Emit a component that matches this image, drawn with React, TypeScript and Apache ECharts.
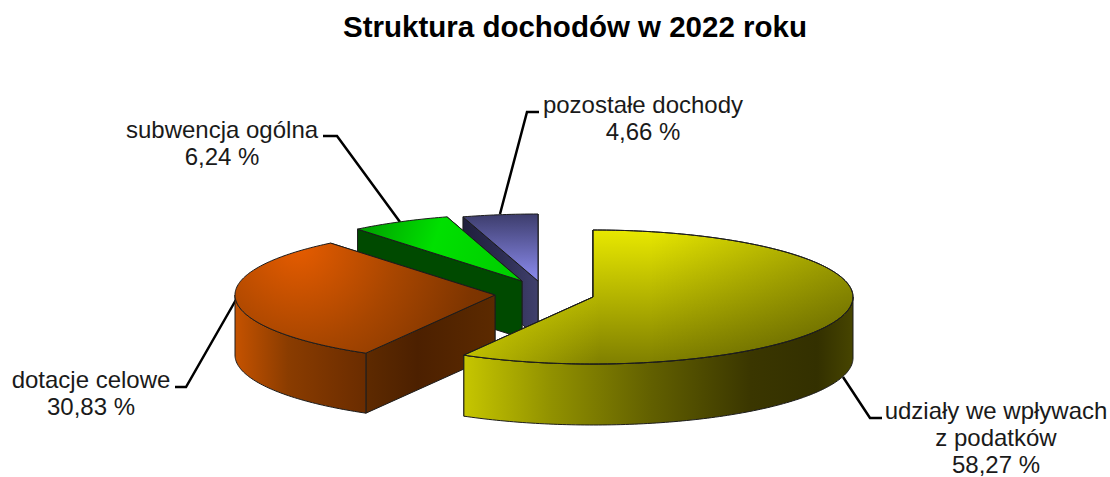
import React, { useEffect, useRef } from "react";
import * as echarts from "echarts";

const titleText = "Struktura dochodów w 2022 roku";
const categories = ["udziały we wpływach\nz podatków", "dotacje celowe", "subwencja ogólna", "pozostałe dochody"];
const shares = [58.27, 30.83, 6.24, 4.66];
const apexX = [593, 495, 522, 538];
const apexY = [297, 295, 281, 281];
const depths = [61, 60, 57, 57];
const labelX = [996, 91, 222, 643];
const labelY = [437, 393, 143, 118];
const leaders = [
  [[882, 418], [870, 418], [843, 377]],
  [[175, 387], [186, 387], [237, 298]],
  [[323, 136], [337, 136], [400, 222]],
  [[539, 112], [527, 112], [500, 214]],
];
const RX = 260;
const RY = 67;
const FONT = "Liberation Sans";

const G = echarts.graphic;
const lin = (x0: number, y0: number, x1: number, y1: number, stops: [number, string][]) =>
  new G.LinearGradient(x0, y0, x1, y1, stops.map(([offset, color]) => ({ offset, color })), true);
const rad = (x: number, y: number, r: number, stops: [number, string][]) =>
  new G.RadialGradient(x, y, r, stops.map(([offset, color]) => ({ offset, color })), true);

const topFills = [
  lin(0, 230, 0, 363, [[0, "#e8e800"], [1, "#808000"]]),
  rad(298, 245, 250, [[0, "#e65c00"], [0.4, "#a84600"], [0.72, "#7e3500"], [1, "#6c2e00"]]),
  lin(360, 225, 520, 280, [[0, "#009f00"], [0.45, "#00e000"], [1, "#00cc00"]]),
  lin(500, 215, 500, 281, [[0, "#3e3e6e"], [1, "#8c8cf0"]]),
];
const topOverlays: any[] = [
  lin(464, 0, 852, 0, [
    [0, "rgba(232,232,0,0.6)"],
    [0.35, "rgba(232,232,0,0)"],
    [0.48, "rgba(0,0,0,0)"],
    [1, "rgba(0,0,0,0.28)"],
  ]),
  null,
  null,
  null,
];
const wallFills = [
  lin(464, 0, 852, 0, [[0, "#c6c600"], [0.22, "#929200"], [0.48, "#626000"], [0.74, "#3a3600"], [0.91, "#333000"], [1, "#464400"]]),
  lin(236, 0, 366, 0, [[0, "#c45200"], [0.4, "#8a3c00"], [1, "#6a2c00"]]),
  "#004a00",
  lin(462, 0, 538, 0, [[0, "#1f1f3c"], [1, "#40406c"]]),
];
const cutFills = [
  "#5e5e00",
  lin(366, 0, 495, 0, [[0, "#5e2a00"], [0.4, "#4c2000"], [1, "#5c2a00"]]),
  "#004a00",
  lin(462, 0, 538, 0, [[0, "#1f1f3c"], [0.5, "#2c2c50"], [1, "#40406c"]]),
];

const renderSlice = (_: any, api: any) => {
  const i = api.value(0) as number;
  const total = shares.reduce((a, b) => a + b, 0);
  const before = shares.slice(0, i).reduce((a, b) => a + b, 0);
  const a0 = (before / total) * 360;
  const a1 = a0 + (api.value(1) / total) * 360;
  const cx = apexX[i], cy = apexY[i], d = depths[i];
  const pt = (deg: number): number[] => {
    const r = (deg * Math.PI) / 180;
    return [cx + RX * Math.sin(r), cy - RY * Math.cos(r)];
  };
  const arc = (from: number, to: number): number[][] => {
    const out: number[][] = [];
    const n = Math.max(1, Math.ceil(to - from));
    for (let k = 0; k <= n; k++) out.push(pt(from + ((to - from) * k) / n));
    return out;
  };
  const drop = (p: number[]) => [p[0], p[1] + d];
  const edge = { stroke: "#1c1c1c", lineWidth: 1 };
  const children: any[] = [];
  const apex = [cx, cy];
  [a1, a0].forEach((a) => {
    const p = pt(a);
    children.push({
      type: "polygon",
      shape: { points: [apex, p, drop(p), drop(apex)] },
      style: { fill: cutFills[i], ...edge },
    });
  });
  const w0 = Math.max(a0, 90), w1 = Math.min(a1, 270);
  if (w1 > w0) {
    const upper = arc(w0, w1);
    children.push({
      type: "polygon",
      shape: { points: [...upper, ...upper.slice().reverse().map(drop)] },
      style: { fill: wallFills[i], ...edge },
    });
  }
  const topPoints = [apex, ...arc(a0, a1)];
  children.push({ type: "polygon", shape: { points: topPoints }, style: { fill: topFills[i], ...edge } });
  if (topOverlays[i]) {
    children.push({ type: "polygon", shape: { points: topPoints }, style: { fill: topOverlays[i], ...edge } });
  }
  return { type: "group", children };
};

const pct = (v: number) => v.toFixed(2).replace(".", ",") + " %";

export default function App() {
  const ref = useRef<HTMLDivElement>(null);
  useEffect(() => {
    const chart = echarts.init(ref.current!, undefined, { renderer: "svg" });
    chart.setOption({
      animation: false,
      backgroundColor: "#ffffff",
      title: {
        text: titleText,
        left: 570,
        top: 6,
        textAlign: "center",
        textStyle: { fontFamily: FONT, fontSize: 29.5, fontWeight: "bold", color: "#000000" },
      },
      series: [
        {
          type: "custom",
          coordinateSystem: "none",
          silent: true,
          renderItem: renderSlice,
          data: shares.map((v, i) => [i, v]).reverse(),
        },
      ],
      graphic: [
        ...leaders.map((points) => ({
          type: "polyline",
          z: 1,
          shape: { points },
          style: { stroke: "#000000", lineWidth: 2.5, fill: "none" },
        })),
        ...categories.map((c, i) => ({
          type: "text",
          x: labelX[i],
          y: labelY[i],
          style: {
            text: c + "\n" + pct(shares[i]),
            fontFamily: FONT,
            fontSize: 24,
            lineHeight: 27,
            fill: "#1a1a1a",
            align: "center",
            verticalAlign: "middle",
          },
        })),
      ],
    });
    return () => chart.dispose();
  }, []);
  return <div ref={ref} style={{ position: "fixed", left: 0, top: 0, width: 1110, height: 477 }} />;
}
